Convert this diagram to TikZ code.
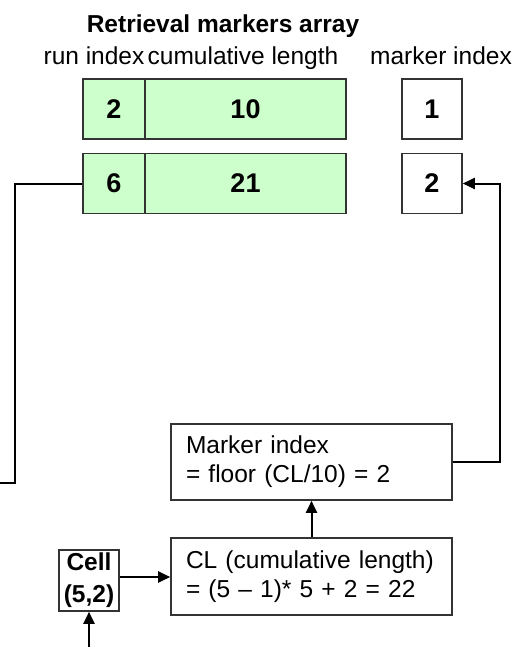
\documentclass[tikz,border=0pt]{standalone}
\usepackage{fontspec}
\setmainfont{Liberation Sans}
\usetikzlibrary{arrows.meta}
\definecolor{cellgreen}{HTML}{CCFFCC}
\definecolor{edgegray}{HTML}{333333}
\begin{document}
\begin{tikzpicture}[x=1pt,y=-1pt,
  font=\fontsize{24.5}{29}\selectfont,
  box/.style={draw=edgegray,line width=1.6pt,rectangle,inner sep=0pt},
  gbox/.style={box,fill=cellgreen,font=\fontsize{27}{29}\selectfont\bfseries},
  wbox/.style={box,fill=white,font=\fontsize{27}{29}\selectfont\bfseries},
  textbox/.style={box,minimum width=281pt,align=left,text width=251pt,inner xsep=15pt},
  conn/.style={line width=2pt,black},
  arr/.style={conn,-{Triangle[length=12pt,width=11pt]}}]
\useasboundingbox (0,0) rectangle (516,647);
% title and headers
\node[anchor=base,font=\fontsize{24.5}{29}\selectfont\bfseries] (title) at (223,33) {Retrieval markers array};
\node[anchor=base] (hrun) at (94,65) {run index};
\node[anchor=base] (hcum) at (243,65) {cumulative length};
\node[anchor=base] (hmark) at (441,65) {marker index};
% array rows
\node[gbox,minimum width=62pt,minimum height=60pt] (r1a) at (114,109) {2};
\node[gbox,minimum width=201pt,minimum height=60pt] (r1b) at (245.5,109) {10};
\node[gbox,minimum width=62pt,minimum height=60pt] (r2a) at (114,183.5) {6};
\node[gbox,minimum width=201pt,minimum height=60pt] (r2b) at (245.5,183.5) {21};
% marker index boxes
\node[wbox,minimum width=60pt,minimum height=60pt] (m1) at (432,109) {1};
\node[wbox,minimum width=60pt,minimum height=60pt] (m2) at (432,183.5) {2};
% computation boxes
\node[textbox,minimum height=76pt] (mi) at (311.5,462) {Marker index\\= floor (CL/10) = 2};
\node[textbox,minimum height=77pt] (cl) at (311.5,576.5) {CL (cumulative length)\\= (5 -- 1)* 5 + 2 = 22};
\node[box,minimum width=60pt,minimum height=61pt,align=center,font=\fontsize{24.5}{32}\selectfont\bfseries] (cell) at (89,580.5) {Cell\\(5,2)};
% free ends
\coordinate (lend) at (0,483);
\coordinate (bstart) at (89,647);
% connectors
\draw[conn] (r2a.west) -- ++(-67,0) |- (lend);
\draw[arr] (mi.east) -- ++(47,0) |- (m2.east);
\draw[arr] (cl.north) -- (mi.south);
\draw[arr] (cell.east |- 0,577) -- (cl.west |- 0,577);
\draw[arr] (bstart) -- (cell.south);
\end{tikzpicture}
\end{document}
